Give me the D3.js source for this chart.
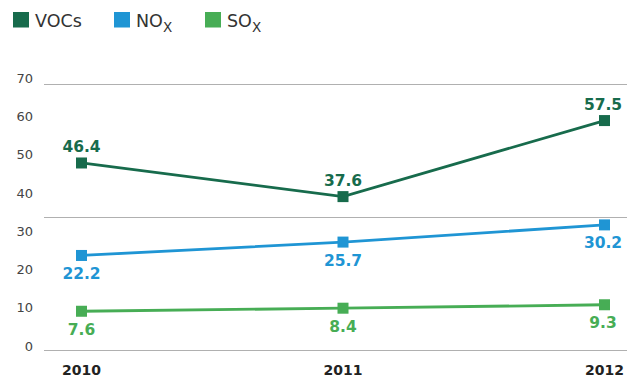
<!DOCTYPE html>
<html><head><meta charset="utf-8">
<script src="https://cdn.jsdelivr.net/npm/d3@7"></script>
<style>html,body{margin:0;padding:0;background:#fff;}svg{display:block;font-family:"DejaVu Sans",sans-serif;}</style>
</head><body>
<svg id="c" width="631" height="379"></svg>
<script>
const years = ["2010", "2011", "2012"];
const vocs = [46.4, 37.6, 57.5];
const nox = [22.2, 25.7, 30.2];
const sox = [7.6, 8.4, 9.3];
const yTicks = [0, 10, 20, 30, 40, 50, 60, 70];
const gridValues = [0, 35, 70];

const seriesList = [
  {name: "VOCs", main: "VOCs", sub: "", values: vocs, color: "#176b4c", labelPos: "above"},
  {name: "NOx", main: "NO", sub: "X", values: nox, color: "#1f95d4", labelPos: "below"},
  {name: "SOx", main: "SO", sub: "X", values: sox, color: "#47ad55", labelPos: "below"}
];

const svg = d3.select("#c");
const x = d3.scalePoint().domain(years).range([81.5, 604.5]);
const y = d3.scaleLinear().domain([0, 70]).range([340.3, 72.8]);
const yLab = d3.scaleLinear().domain([0, 70]).range([346, 78]);
const yGrid = d3.scaleLinear().domain([0, 70]).range([349.5, 84]);

// gridlines
svg.append("g").selectAll("line").data(gridValues).join("line")
  .attr("x1", 44).attr("x2", 627)
  .attr("y1", d => Math.round(yGrid(d)) + 0.5).attr("y2", d => Math.round(yGrid(d)) + 0.5)
  .attr("stroke", "#b0b0b0").attr("stroke-width", 1.2);

// y tick labels
svg.append("g").selectAll("text").data(yTicks).join("text")
  .attr("x", 33).attr("y", d => yLab(d)).attr("dy", "0.36em")
  .attr("text-anchor", "end").attr("font-size", 13).attr("fill", "#444")
  .text(d => d);

// x labels
svg.append("g").selectAll("text").data(years).join("text")
  .attr("x", d => x(d)).attr("y", 375)
  .attr("text-anchor", "middle").attr("font-size", 14).attr("font-weight", "bold").attr("fill", "#222")
  .text(d => d);

const line = d3.line().x((d, i) => x(years[i])).y(d => y(d));

seriesList.forEach(s => {
  const g = svg.append("g");
  g.append("path").datum(s.values).attr("d", line)
    .attr("fill", "none").attr("stroke", s.color).attr("stroke-width", 2.8);
  g.selectAll("rect").data(s.values).join("rect")
    .attr("x", (d, i) => x(years[i]) - 5.5).attr("y", d => y(d) - 5.5)
    .attr("width", 11).attr("height", 11).attr("fill", s.color);
  g.selectAll("text").data(s.values).join("text")
    .attr("x", (d, i) => x(years[i]) - (i === 2 ? 1.5 : 0))
    .attr("y", d => s.labelPos === "above" ? y(d) - 10.5 : y(d) + 23.5)
    .attr("text-anchor", "middle").attr("font-size", 15.5).attr("font-weight", "bold")
    .attr("fill", s.color)
    .text(d => d.toFixed(1));
});

// legend
const legendX = [13, 114, 205];
seriesList.forEach((s, i) => {
  const lg = svg.append("g").attr("transform", `translate(${legendX[i]},0)`);
  lg.append("rect").attr("x", 0).attr("y", 12).attr("width", 16).attr("height", 15.5).attr("fill", s.color);
  const t = lg.append("text").attr("x", 22).attr("y", 27.3).attr("font-size", 17.5).attr("fill", "#333");
  t.append("tspan").text(s.main);
  if (s.sub) t.append("tspan").attr("dy", 4.4).attr("font-size", 13.5).text(s.sub);
});
</script>
</body></html>
